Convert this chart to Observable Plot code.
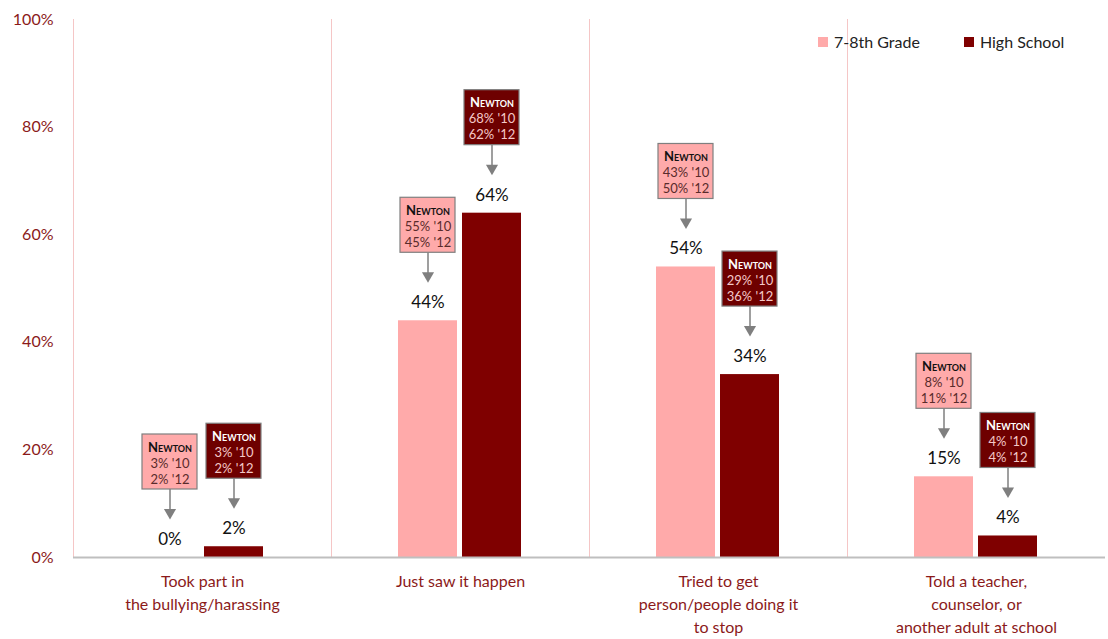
<!DOCTYPE html>
<html><head><meta charset="utf-8">
<script src="https://cdn.jsdelivr.net/npm/d3@7"></script>
<script src="https://cdn.jsdelivr.net/npm/@observablehq/plot@0.6"></script>
<style>
body{margin:0;background:#fff;font-family:Lato,"Open Sans",sans-serif;}
#wrap{position:relative;width:1108px;height:639px;}
#legend{position:absolute;left:818px;top:32px;width:290px;font:16px Lato,sans-serif;color:#222;display:flex;white-space:nowrap;}
#legend span.item{display:inline-flex;align-items:center;margin-right:44px;white-space:nowrap;flex:none;}
#legend i{display:inline-block;width:10px;height:10px;margin-right:6px;}
</style></head>
<body><div id="wrap"><div id="legend"></div></div>
<script>
const categories = ["Took part in\nthe bullying/harassing", "Just saw it happen", "Tried to get\nperson/people doing it\nto stop", "Told a teacher,\ncounselor, or\nanother adult at school"];
const seriesNames = ["7-8th Grade", "High School"];
const grade78 = [0, 44, 54, 15];
const highSchool = [2, 64, 34, 4];
const newton10_78 = [3, 55, 43, 8];
const newton12_78 = [2, 45, 50, 11];
const newton10_hs = [3, 68, 29, 4];
const newton12_hs = [2, 62, 36, 4];
const yTicks = [0, 20, 40, 60, 80, 100];
const colors = ["#ffaaaa", "#7f0000"];

const W = 1108, H = 639, mT = 19, mB = 82, mL = 72, mR = 2;
const PX = 100 / (H - mT - mB); // percentage points per pixel

const rows = [];
categories.forEach((c, i) => {
  rows.push({cat: c, series: seriesNames[0], value: grade78[i], n10: newton10_78[i], n12: newton12_78[i]});
  rows.push({cat: c, series: seriesNames[1], value: highSchool[i], n10: newton10_hs[i], n12: newton12_hs[i]});
});
const dark = d => d.series === seriesNames[1];

const font = "Lato, 'Open Sans', sans-serif";
const plot = Plot.plot({
  width: W, height: H,
  marginTop: mT, marginBottom: mB, marginLeft: mL, marginRight: mR,
  style: {fontFamily: font, background: "#fff"},
  fx: {domain: categories, padding: 0, label: null},
  x: {domain: seriesNames, paddingInner: 0.077, paddingOuter: 1.03, axis: null},
  y: {domain: [0, 100], label: null},
  color: {domain: seriesNames, range: colors},
  marks: [
    Plot.frame({anchor: "left", stroke: "#f5c6c6", strokeWidth: 1}),
    Plot.axisY({ticks: yTicks, tickFormat: d => d + "%", tickSize: 0, tickPadding: 20, fontSize: 16, fill: "#8b1a1a", label: null}),
    Plot.axisFx({anchor: "bottom", tickSize: 0, tickPadding: 13, fontSize: 16, fill: "#8b1a1a", lineHeight: 1.45, label: null}),
    Plot.barY(rows, {fx: "cat", x: "series", y: "value", fill: "series"}),
    Plot.ruleY([0], {stroke: "#bfbfbf", strokeWidth: 2}),
    Plot.text(rows, {fx: "cat", x: "series", y: "value", text: d => d.value + "%", dy: -18, fontSize: 17, fill: "#111"}),
    // callout arrows
    Plot.ruleX(rows, {fx: "cat", x: "series", y1: d => d.value + 47 * PX, y2: d => d.value + 68 * PX, stroke: "#7f7f7f", strokeWidth: 1.5}),
    Plot.dot(rows, {fx: "cat", x: "series", y: d => d.value + 45 * PX, symbol: "triangle", rotate: 180, r: 4.5, fill: "#7f7f7f"}),
    // callout boxes
    Plot.barY(rows, {fx: "cat", x: "series", y1: d => d.value + 68 * PX, y2: d => d.value + 123 * PX, insetLeft: 2, insetRight: 2,
      fill: d => dark(d) ? "#6e0000" : "#ffaaaa", stroke: "#7f7f7f", strokeWidth: 1.2}),
    Plot.text(rows, {fx: "cat", x: "series", y: d => d.value + 123 * PX, dy: 13, text: () => "Newton", fontVariant: "small-caps", fontWeight: "bold", fontSize: 13,
      fill: d => dark(d) ? "#ffffff" : "#111111"}),
    Plot.text(rows, {fx: "cat", x: "series", y: d => d.value + 123 * PX, dy: 29, text: d => d.n10 + "% '10", fontSize: 13,
      fill: d => dark(d) ? "#f4c8c8" : "#5a2b2b"}),
    Plot.text(rows, {fx: "cat", x: "series", y: d => d.value + 123 * PX, dy: 45, text: d => d.n12 + "% '12", fontSize: 13,
      fill: d => dark(d) ? "#f4c8c8" : "#5a2b2b"})
  ]
});
document.getElementById("wrap").prepend(plot);
plot.style.position = "absolute"; plot.style.left = "0"; plot.style.top = "0";
const lg = document.getElementById("legend");
seriesNames.forEach((s, i) => {
  const it = document.createElement("span"); it.className = "item";
  it.innerHTML = `<i style="background:${colors[i]}"></i>${s}`;
  lg.appendChild(it);
});
</script></body></html>
